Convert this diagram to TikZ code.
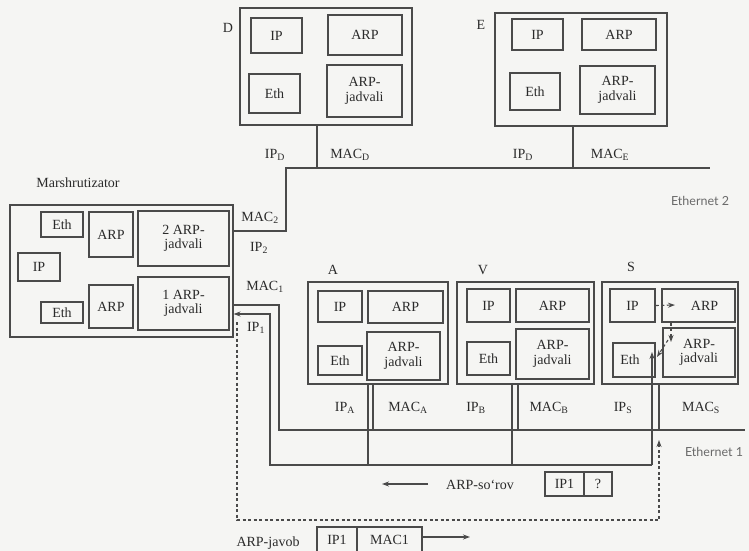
\documentclass[tikz,border=0pt]{standalone}
\usepackage{fontspec}
\setmainfont{Liberation Serif}
\newfontfamily\gillfont{Lato}
\usetikzlibrary{arrows.meta}
\definecolor{ln}{HTML}{4A4A4A}
\definecolor{tx}{HTML}{2A2A2A}
\definecolor{bg}{HTML}{F5F5F3}
\definecolor{lt}{HTML}{6A6A6A}
\newcommand\mkbox[7][inbox]{\node[#1, minimum width={(#5-#3)*1pt}, minimum height={(#6-#4)*1pt}] (#2) at ({(#3+#5)/2},{(#4+#6)/2}) {#7};}
\tikzset{
  outbox/.style={draw=ln, line width=1.1pt, inner sep=0pt},
  inbox/.style={draw=ln, line width=1.5pt, inner sep=0pt, align=center, text=tx, font=\fontsize{14}{14.5}\selectfont},
  lbl/.style={inner sep=0pt, text=tx, font=\fontsize{14}{14}\selectfont},
  netlbl/.style={inner sep=0pt, text=lt, font=\gillfont\fontsize{12.5}{13}\selectfont},
  wire/.style={draw=ln, line width=1.2pt},
  dsh/.style={draw=ln, line width=1.1pt, dash pattern=on 3pt off 2.5pt},
  tip/.style={-{Stealth[length=7pt,width=5pt]}},
}
\begin{document}
\begin{tikzpicture}[x=1pt,y=-1pt]
\fill[bg] (0,0) rectangle (749,551);
\useasboundingbox (0,0) rectangle (749,551);

% ---------- D ----------
\mkbox[outbox]{d}{240}{8}{412}{125}{}
\mkbox{dip}{251}{18}{302}{53}{IP}
\mkbox{darp}{328}{15}{402}{55}{ARP}
\mkbox{deth}{249}{74}{300}{113}{Eth}
\mkbox{dtab}{327}{65}{402}{117}{ARP-\\jadvali}
\node[lbl] (dl) at (228,28) {D};
\node[lbl] (dipl) at (275,155) {IP\textsubscript{D}};
\node[lbl] (dmacl) at (350,155) {MAC\textsubscript{D}};

% ---------- E ----------
\mkbox[outbox]{e}{495}{13}{667}{126}{}
\mkbox{eip}{512}{19}{563}{50}{IP}
\mkbox{earp}{582}{19}{656}{50}{ARP}
\mkbox{eeth}{510}{73}{560}{110}{Eth}
\mkbox{etab}{580}{66}{655}{114}{ARP-\\jadvali}
\node[lbl] (el) at (481,25) {E};
\node[lbl] (eipl) at (523,155) {IP\textsubscript{D}};
\node[lbl] (emacl) at (610,155) {MAC\textsubscript{E}};

% ---------- Router ----------
\node[lbl] (rtl) at (78,183) {Marshrutizator};
\mkbox[outbox]{rt}{10}{205}{233}{337}{}
\mkbox{reth2}{41}{212}{83}{237}{Eth}
\mkbox{rarp2}{89}{212}{133}{257}{ARP}
\mkbox{rtab2}{138}{211}{229}{266}{2 ARP-\\jadvali}
\mkbox{rip}{18}{253}{60}{281}{IP}
\mkbox{rarp1}{89}{285}{133}{328}{ARP}
\mkbox{rtab1}{138}{277}{229}{330}{1 ARP-\\jadvali}
\mkbox{reth1}{41}{302}{83}{323}{Eth}
\node[lbl] (mac2l) at (260,218) {MAC\textsubscript{2}};
\node[lbl] (ip2l) at (259,248) {IP\textsubscript{2}};
\node[lbl] (mac1l) at (265,287) {MAC\textsubscript{1}};
\node[lbl] (ip1l) at (256,328) {IP\textsubscript{1}};

% ---------- A ----------
\mkbox[outbox]{a}{308}{282}{448}{384}{}
\mkbox{aip}{318}{291}{362}{322}{IP}
\mkbox{aarp}{368}{291}{443}{323}{ARP}
\mkbox{aeth}{318}{346}{362}{375}{Eth}
\mkbox{atab}{367}{332}{440}{380}{ARP-\\jadvali}
\node[lbl] (al) at (333,270) {A};
\node[lbl] (aipl) at (345,408) {IP\textsubscript{A}};
\node[lbl] (amacl) at (408,408) {MAC\textsubscript{A}};

% ---------- V ----------
\mkbox[outbox]{v}{457}{282}{594}{384}{}
\mkbox{vip}{467}{289}{510}{322}{IP}
\mkbox{varp}{516}{289}{589}{322}{ARP}
\mkbox{veth}{467}{342}{510}{375}{Eth}
\mkbox{vtab}{516}{329}{589}{379}{ARP-\\jadvali}
\node[lbl] (vl) at (483,270) {V};
\node[lbl] (vipl) at (476,408) {IP\textsubscript{B}};
\node[lbl] (vmacl) at (549,408) {MAC\textsubscript{B}};

% ---------- S ----------
\mkbox[outbox]{s}{602}{282}{738}{384}{}
\mkbox{sip}{610}{289}{655}{322}{IP}
\mkbox{sarp}{662}{289}{735}{322}{\hspace*{12pt}ARP}
\mkbox{seth}{613}{343}{655}{377}{Eth\hspace*{8pt}}
\mkbox{stab}{663}{328}{735}{377}{ARP-\\jadvali}
\node[lbl] (sl) at (631,267) {S};
\node[lbl] (sipl) at (623,408) {IP\textsubscript{S}};
\node[lbl] (smacl) at (701,408) {MAC\textsubscript{S}};

% ---------- Ethernet 2 ----------
\coordinate (dbus) at (317,168);
\coordinate (ebus) at (573,168);
\coordinate (m2) at (286,231);
\coordinate (e2c) at (286,168);
\coordinate (e2end) at (710,168);
\draw[wire] (d.south -| dbus) -- (dbus);
\draw[wire] (e.south -| ebus) -- (ebus);
\draw[wire] (rt.east |- m2) -- (m2) -- (e2c) -- (e2end);
\node[netlbl] (e2l) at (700,201) {Ethernet 2};

% ---------- Ethernet 1 ----------
\coordinate (m1) at (279,305);
\coordinate (b1l) at (279,430);
\coordinate (b1r) at (745,430);
\draw[wire] (rt.east |- m1) -- (m1) -- (b1l) -- (b1r);
\coordinate (a2) at (373,430);
\coordinate (v2) at (518,430);
\coordinate (s2) at (659,430);
\draw[wire] (a.south -| a2) -- (a2);
\draw[wire] (v.south -| v2) -- (v2);
\draw[wire] (s.south -| s2) -- (s2);
\node[netlbl] (e1l) at (714,452) {Ethernet 1};

% ---------- ARP request path ----------
\coordinate (q1) at (270,314);
\coordinate (q2) at (270,465);
\coordinate (q3) at (652,465);
\coordinate (a1) at (368,465);
\coordinate (v1) at (512,465);
\coordinate (sin) at (652,352);
\draw[wire,tip] (q3) -- (q2) -- (q1) -- (rt.east |- q1);
\draw[wire] (a.south -| a1) -- (a1);
\draw[wire] (v.south -| v1) -- (v1);
\draw[wire,tip] (q3) -- (sin);

% ---------- inside S ----------
\coordinate (sa1) at (675,305);
\coordinate (sa2) at (671,342);
\coordinate (sa3) at (668,340);
\coordinate (sa4) at (657,357);
\draw[dsh,tip] (sip.east) -- (sa1);
\draw[dsh,tip] (sarp.south -| sa2) -- (sa2);
\draw[dsh,tip] (sa3) -- (sa4);

% ---------- ARP reply path ----------
\coordinate (r0) at (237,322);
\coordinate (r1) at (237,520);
\coordinate (r2) at (659,520);
\coordinate (r3) at (659,440);
\draw[dsh,tip] (r0) -- (r1) -- (r2) -- (r3);

% ---------- ARP-so'rov ----------
\coordinate (qa1) at (428,484);
\coordinate (qa2) at (382,484);
\draw[wire,tip] (qa1) -- (qa2);
\node[lbl] (sorl) at (480,485) {ARP-so‘rov};
\mkbox{pq1}{545}{472}{584}{496}{IP1}
\mkbox{pq2}{584}{472}{612}{496}{?}

% ---------- ARP-javob ----------
\node[lbl] (javl) at (268,543) {ARP-javob};
\mkbox{pj1}{317}{527}{357}{553}{IP1}
\mkbox{pj2}{357}{527}{422}{553}{MAC1}
\coordinate (ja1) at (470,537);
\draw[wire,tip] (pj2.east |- ja1) -- (ja1);
\end{tikzpicture}
\end{document}
